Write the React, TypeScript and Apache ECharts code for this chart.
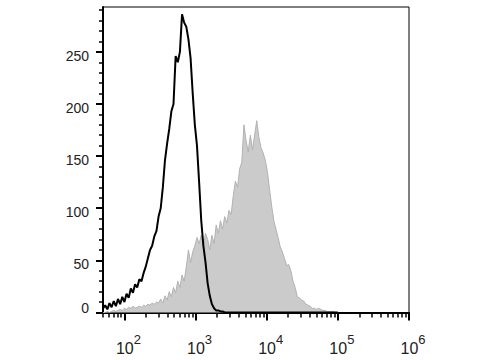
import React, { useEffect, useRef } from "react";
import * as echarts from "echarts";

// Histogram bins: log10 channel exponent of the first bin and bin width (decades)
const binStartExp = 1.7;
const binStepExp = 0.03;

// Control (black outline) counts per bin
const controlCounts = [
  4, 7, 3, 9, 5, 11, 6, 13, 8, 15,
  10, 18, 14, 23, 19, 27, 24, 32, 30, 38,
  44, 52, 60, 64, 73, 78, 92, 100, 120, 146,
  162, 176, 193, 200, 246, 240, 250, 286, 278, 274,
  262, 244, 210, 180, 160, 125, 88, 64, 48, 28,
  16, 8, 4, 2, 2, 1, 1, 0, 0, 0,
  0, 0, 0, 0, 0, 0, 0, 0, 0, 0,
  0, 0, 0, 0, 0, 0, 0, 0, 0, 0,
  0, 0, 0, 0, 0, 0, 0, 0, 0, 0,
  0, 0, 0, 0, 0, 0, 0, 0, 0, 0,
  0, 0, 0, 0, 0, 0, 0, 0, 0, 0,
  0,
];

// Stained sample (grey filled) counts per bin
const stainedCounts = [
  0, 0, 1, 0, 1, 2, 1, 2, 3, 2,
  4, 3, 5, 4, 6, 4, 5, 6, 5, 7,
  6, 8, 7, 9, 8, 10, 9, 13, 9, 16,
  12, 20, 15, 24, 19, 30, 24, 36, 30, 44,
  60, 48, 58, 64, 72, 66, 74, 64, 76, 70,
  60, 74, 66, 84, 76, 88, 80, 92, 86, 98,
  94, 112, 126, 120, 138, 144, 180, 165, 154, 170,
  156, 170, 184, 168, 158, 153, 146, 135, 118, 102,
  88, 80, 72, 63, 58, 52, 45, 46, 40, 30,
  24, 15, 14, 12, 11, 8, 7, 6, 4, 4,
  3, 4, 3, 2, 2, 1, 1, 1, 1, 0,
  0,
];

const xMin = 50;
const xMax = 1000000;
const yMin = 0;
const yMax = 293;

const xMajorTicks = [100, 1000, 10000, 100000, 1000000];
const xMinorTicks = [
  50, 60, 70, 80, 90,
  200, 300, 400, 500, 600, 700, 800, 900,
  2000, 3000, 4000, 5000, 6000, 7000, 8000, 9000,
  20000, 30000, 40000, 50000, 60000, 70000, 80000, 90000,
  200000, 300000, 400000, 500000, 600000, 700000, 800000, 900000,
];
const yMajorTicks = [0, 50, 100, 150, 200, 250];
const yMinorTicks = [
  10, 20, 30, 40, 60, 70, 80, 90, 110, 120, 130, 140, 160, 170, 180, 190,
  210, 220, 230, 240, 260, 270, 280, 290,
];

const FONT = 'Arial, "Liberation Sans", Helvetica, sans-serif';

function toPairs(counts: number[]): [number, number][] {
  return counts.map((c, i) => [Math.pow(10, binStartExp + binStepExp * i), c]);
}

export default function App() {
  const ref = useRef<HTMLDivElement>(null);

  useEffect(() => {
    if (!ref.current) return;
    const chart = echarts.init(ref.current, undefined, { renderer: "svg" });
    const option: any = {
      animation: false,
      backgroundColor: "#ffffff",
      grid: {
        left: 103,
        top: 7,
        right: 71,
        bottom: 47.5,
        show: true,
        borderColor: "#000",
        borderWidth: 1,
        backgroundColor: "transparent",
      },
      xAxis: [
        {
          type: "log",
          logBase: 10,
          min: xMin,
          max: xMax,
          position: "bottom",
          axisLine: { show: true, lineStyle: { color: "#000", width: 2 } },
          axisTick: {
            show: true,
            customValues: xMajorTicks,
            length: 8,
            lineStyle: { color: "#000", width: 2 },
          },
          axisLabel: {
            show: true,
            customValues: xMajorTicks,
            margin: 20,
            formatter: (v: number) =>
              `{s| }{b|10}{e|${Math.round(Math.log10(v))}}`,
            rich: {
              s: { width: 8, fontSize: 13 },
              b: { fontSize: 16, fontFamily: FONT, color: "#222" },
              e: {
                fontSize: 13,
                fontFamily: FONT,
                color: "#222",
                padding: [0, 0, 18, 0],
              },
            },
          },
          splitLine: { show: false },
          minorTick: { show: false },
        },
        {
          type: "log",
          logBase: 10,
          min: xMin,
          max: xMax,
          position: "bottom",
          axisLine: { show: false },
          axisTick: {
            show: true,
            customValues: xMinorTicks,
            length: 5,
            lineStyle: { color: "#000", width: 1.5 },
          },
          axisLabel: { show: false },
          splitLine: { show: false },
        },
      ],
      yAxis: [
        {
          type: "value",
          min: yMin,
          max: yMax,
          position: "left",
          axisLine: { show: true, lineStyle: { color: "#000", width: 2 } },
          axisTick: {
            show: true,
            customValues: yMajorTicks,
            length: 7,
            lineStyle: { color: "#000", width: 2 },
          },
          axisLabel: {
            show: true,
            customValues: yMajorTicks,
            margin: 14,
            formatter: (v: number) => (v === 0 ? `{z|0}` : `{n|${v}}`),
            rich: {
              n: {
                fontSize: 14,
                fontFamily: FONT,
                color: "#222",
                padding: [8, 0, 0, 0],
              },
              z: {
                fontSize: 14,
                fontFamily: FONT,
                color: "#222",
                padding: [0, 0, 10, 0],
              },
            },
          },
          splitLine: { show: false },
        },
        {
          type: "value",
          min: yMin,
          max: yMax,
          position: "left",
          axisLine: { show: false },
          axisTick: {
            show: true,
            customValues: yMinorTicks,
            length: 4,
            lineStyle: { color: "#000", width: 1.5 },
          },
          axisLabel: { show: false },
          splitLine: { show: false },
        },
      ],
      series: [
        {
          name: "Stained",
          type: "line",
          xAxisIndex: 0,
          yAxisIndex: 0,
          data: toPairs(stainedCounts),
          symbol: "none",
          smooth: false,
          lineStyle: { color: "#b2b2b2", width: 1 },
          areaStyle: { color: "#cbcbcb", opacity: 1 },
          z: 2,
        },
        {
          name: "Control",
          type: "line",
          xAxisIndex: 0,
          yAxisIndex: 0,
          data: toPairs(controlCounts),
          symbol: "none",
          smooth: false,
          lineStyle: { color: "#000", width: 2 },
          z: 3,
        },
      ],
    };
    chart.setOption(option);
    return () => chart.dispose();
  }, []);

  return (
    <div
      ref={ref}
      style={{
        position: "fixed",
        left: 0,
        top: 0,
        width: 480,
        height: 360,
        background: "#fff",
      }}
    />
  );
}
